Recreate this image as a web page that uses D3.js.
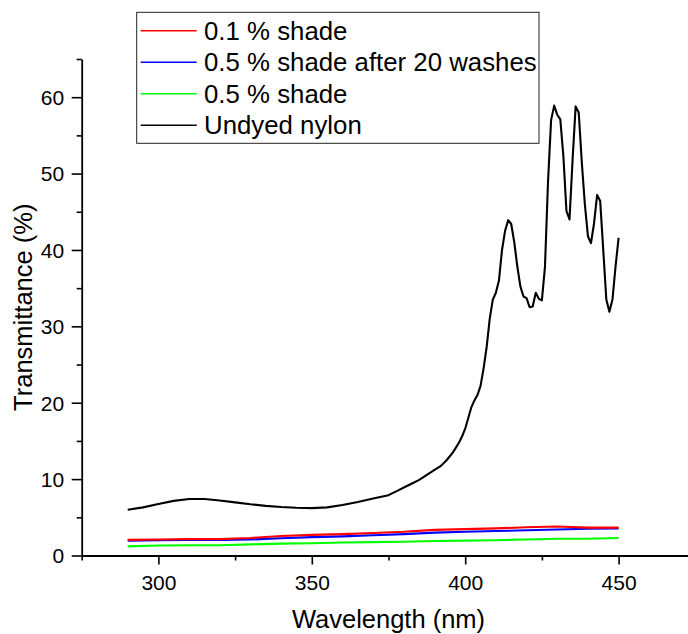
<!DOCTYPE html>
<html>
<head>
<meta charset="utf-8">
<script src="https://cdn.jsdelivr.net/npm/d3@7"></script>
<style>
  html, body { margin: 0; padding: 0; background: #fff; }
  svg { display: block; font-family: "Liberation Sans", Arial, sans-serif; }
</style>
</head>
<body>
<svg id="chart" width="688" height="634"></svg>
<script>
// Transmittance spectra (%), wavelength in nm
const shadeWl = [290, 300, 310, 320, 330, 340, 350, 360, 370, 380, 390, 400, 410, 420, 430, 440, 450];
const shade01 = [2.05, 2.1, 2.15, 2.15, 2.3, 2.55, 2.7, 2.8, 2.95, 3.1, 3.35, 3.45, 3.55, 3.7, 3.8, 3.65, 3.65];
const shade05Washed = [1.95, 2.0, 2.05, 2.05, 2.1, 2.25, 2.4, 2.5, 2.65, 2.8, 3.0, 3.1, 3.2, 3.3, 3.4, 3.5, 3.55];
const shade05 = [1.2, 1.3, 1.35, 1.35, 1.45, 1.55, 1.6, 1.7, 1.75, 1.8, 1.9, 1.95, 2.0, 2.1, 2.2, 2.2, 2.3];

const nylonWl = [290, 295, 300, 305, 310, 315, 320, 325, 330, 335, 340, 345, 350, 355, 360, 365, 370, 375,
  378, 380, 382, 385, 388, 390, 392, 394, 396, 398, 399, 400, 401, 402, 403, 404, 405, 406, 407, 408, 409,
  410, 411, 412, 413, 414, 415, 416, 417, 418, 419, 420, 421, 422, 423, 424, 425, 426, 427, 428, 429, 430,
  431, 432, 433, 434, 435, 436, 437, 438, 439, 440, 441, 442, 443, 444, 445, 446, 447, 448, 449, 450];
const nylon = [6.0, 6.3, 6.75, 7.15, 7.4, 7.4, 7.2, 6.95, 6.7, 6.5, 6.35, 6.25, 6.2, 6.3, 6.6, 7.0, 7.45, 7.9,
  8.5, 8.9, 9.3, 9.9, 10.7, 11.2, 11.7, 12.5, 13.5, 14.8, 15.6, 16.6, 18.0, 19.4, 20.3, 21.0, 22.2, 24.5, 27.3, 31.0, 33.5,
  34.4, 36.0, 40.0, 42.5, 43.9, 43.4, 41.0, 37.8, 35.2, 33.9, 33.7, 32.5, 32.6, 34.4, 33.6, 33.4, 37.8, 49.0, 57.0, 58.9, 57.7,
  57.1, 52.3, 45.1, 44.0, 51.8, 58.8, 58.0, 51.5, 46.0, 41.8, 40.9, 43.5, 47.2, 46.4, 40.0, 33.5, 31.9, 33.5, 37.8, 41.6];

const seriesNames = ["0.1 % shade", "0.5 % shade after 20 washes", "0.5 % shade", "Undyed nylon"];
const seriesColors = ["#ff0000", "#0000ff", "#00ff00", "#000000"];

const xMajorTicks = [300, 350, 400, 450];
const xMinorTicks = [275, 325, 375, 425, 475];
const yMajorTicks = [0, 10, 20, 30, 40, 50, 60];
const yMinorTicks = [5, 15, 25, 35, 45, 55, 65];

const svg = d3.select("#chart");

const x = d3.scaleLinear().domain([275, 475]).range([81.7, 695.3]);
const y = d3.scaleLinear().domain([0, 65]).range([555.5, 59]);

const series = [
  { name: seriesNames[0], color: seriesColors[0], wl: shadeWl, v: shade01 },
  { name: seriesNames[1], color: seriesColors[1], wl: shadeWl, v: shade05Washed },
  { name: seriesNames[2], color: seriesColors[2], wl: shadeWl, v: shade05 },
  { name: seriesNames[3], color: seriesColors[3], wl: nylonWl, v: nylon }
];

const line = d3.line().x(d => x(d[0])).y(d => y(d[1]));

// spectra, drawn so the undyed curve sits under the coloured ones
const drawOrder = [3, 2, 1, 0];
drawOrder.forEach(i => {
  const s = series[i];
  svg.append("path")
    .datum(s.wl.map((w, k) => [w, s.v[k]]))
    .attr("fill", "none")
    .attr("stroke", s.color)
    .attr("stroke-width", 2.1)
    .attr("stroke-linejoin", "round")
    .attr("d", line);
});

// x axis
const xAxisG = svg.append("g").attr("transform", `translate(0,${y(0)})`);
xAxisG.call(d3.axisBottom(x).tickValues(xMajorTicks).tickSize(9).tickSizeOuter(0).tickFormat(d3.format("d")));
xAxisG.append("g").call(d3.axisBottom(x).tickValues(xMinorTicks).tickSize(5).tickSizeOuter(0).tickFormat(""))
  .select(".domain").remove();
xAxisG.selectAll(".domain").attr("stroke", "#000").attr("stroke-width", 1.8);
xAxisG.selectAll(".tick line").attr("stroke", "#000").attr("stroke-width", 1.6);
xAxisG.selectAll(".tick text")
  .attr("y", 19.5).attr("dy", "0.71em")
  .attr("font-size", 21).attr("fill", "#000")
  .attr("font-family", "Liberation Sans, Arial, sans-serif");

// y axis
const yAxisG = svg.append("g").attr("transform", `translate(${x(275)},0)`);
yAxisG.call(d3.axisLeft(y).tickValues(yMajorTicks).tickSize(10).tickSizeOuter(0).tickFormat(d3.format("d")));
yAxisG.append("g").call(d3.axisLeft(y).tickValues(yMinorTicks).tickSize(5).tickSizeOuter(0).tickFormat(""))
  .select(".domain").remove();
yAxisG.selectAll(".domain").attr("stroke", "#000").attr("stroke-width", 1.8);
yAxisG.selectAll(".tick line").attr("stroke", "#000").attr("stroke-width", 1.6);
yAxisG.selectAll(".tick text")
  .attr("x", -17.5).attr("dy", "0.35em")
  .attr("font-size", 21).attr("fill", "#000")
  .attr("font-family", "Liberation Sans, Arial, sans-serif");

// axis titles
svg.append("text")
  .attr("x", (x(275) + x(475)) / 2)
  .attr("y", 628)
  .attr("text-anchor", "middle")
  .attr("font-size", 25.5)
  .attr("fill", "#000")
  .text("Wavelength (nm)");

svg.append("text")
  .attr("transform", `translate(32,${(y(0) + y(65)) / 2}) rotate(-90)`)
  .attr("text-anchor", "middle")
  .attr("font-size", 25.5)
  .attr("fill", "#000")
  .text("Transmittance (%)");

// legend
const legend = svg.append("g");
legend.append("rect")
  .attr("x", 136.7).attr("y", 12.3)
  .attr("width", 402.3).attr("height", 131)
  .attr("fill", "#fff")
  .attr("stroke", "#222")
  .attr("stroke-width", 1);

const rowY = d3.scalePoint().domain(seriesNames).range([30.7, 125.3]);
series.forEach(s => {
  const ry = rowY(s.name);
  legend.append("line")
    .attr("x1", 140.7).attr("x2", 196.7)
    .attr("y1", ry).attr("y2", ry)
    .attr("stroke", s.color).attr("stroke-width", 1.4);
  legend.append("text")
    .attr("x", 204)
    .attr("y", ry + 8.9)
    .attr("font-size", 25.8)
    .attr("fill", "#000")
    .text(s.name);
});
</script>
</body>
</html>
